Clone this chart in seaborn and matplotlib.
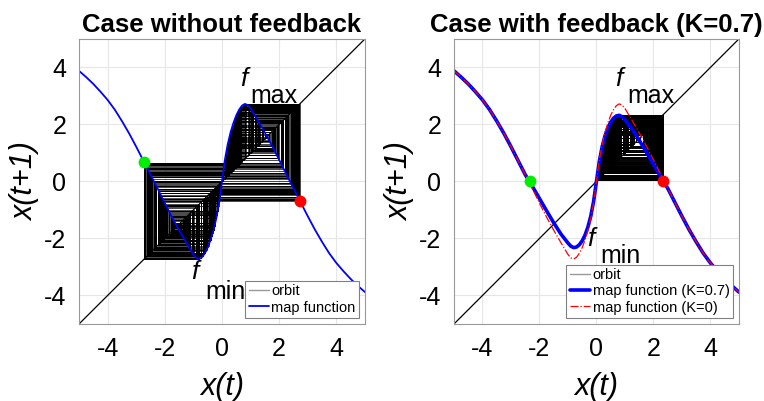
import numpy as np
import matplotlib
matplotlib.use("Agg")
import matplotlib.pyplot as plt
import seaborn as sns

# map function, x(t) -> x(t+1)
x_grid = [-5.0, -4.75, -4.5, -4.25, -4.0, -3.75, -3.5, -3.25, -3.0, -2.75, -2.5, -2.25, -2.0, -1.75, -1.5,
          -1.25, -1.0, -0.9, -0.8, -0.7, -0.6, -0.5, -0.4, -0.3, -0.2, -0.1, 0.0,
          0.1, 0.2, 0.3, 0.4, 0.5, 0.6, 0.7, 0.8, 0.9, 1.0, 1.25, 1.5, 1.75, 2.0, 2.25, 2.5, 2.75,
          3.0, 3.25, 3.5, 3.75, 4.0, 4.25, 4.5, 4.75, 5.0]
map_k0 = [3.88, 3.66, 3.42, 3.15, 2.86, 2.52, 2.12, 1.69, 1.22, 0.73, 0.24, -0.25, -0.76, -1.25, -1.71,
          -2.14, -2.56, -2.68, -2.72, -2.66, -2.52, -2.32, -2.05, -1.72, -1.30, -0.75, 0.0,
          0.75, 1.30, 1.72, 2.05, 2.32, 2.52, 2.66, 2.72, 2.68, 2.56, 2.14, 1.71, 1.25, 0.76, 0.25, -0.24, -0.73,
          -1.22, -1.69, -2.12, -2.52, -2.86, -3.15, -3.42, -3.66, -3.88]
map_k07 = [3.88, 3.66, 3.42, 3.15, 2.86, 2.52, 2.12, 1.69, 1.22, 0.73, 0.24, -0.17, -0.60, -1.03, -1.45,
           -1.84, -2.16, -2.27, -2.32, -2.30, -2.22, -2.08, -1.88, -1.60, -1.22, -0.70, 0.0,
           0.70, 1.22, 1.60, 1.88, 2.08, 2.22, 2.30, 2.32, 2.27, 2.16, 1.84, 1.45, 1.03, 0.60, 0.17, -0.24, -0.73,
           -1.22, -1.69, -2.12, -2.52, -2.86, -3.15, -3.42, -3.66, -3.88]

# orbit values x(t), in hundredths
orbit_left_x100 = [31, 175, 124, 215, 45, 220, 36, 192, 93, 265, -53, -238, 1, 9, 69, 265, -54, -239, 3, 22,
                   140, 188, 99, 257, -37, -196, -85, -270, 64, 257, -38, -197, -82, -271, 66, 260, -44, -215,
                   -46, -221, -33, -180, -115, -232, -12, -86, -270, 62, 255, -35, -187, -102, -253, 31, 175,
                   126, 213, 49, 230, 15, 101, 254, -31, -176, -123, -218, -40, -205, -66, -260, 43, 213, 49,
                   228, 19, 125, 214, 47, 223, 28, 164, 144, 181, 114, 233, 10, 76, 269, -62, -255, 33, 183,
                   109, 242, -7, -55, -242, 9, 65, 259, -42, -209, -57, -245, 15, 103, 252, -27, -159, -154,
                   -164, -145, -180, -116, -229, -17, -112, -236, -3, -23, -144, -182, -112, -237, -2, -17,
                   -116, -230, -16, -106, -246, 15, 105, 248, -20, -129, -207, -62, -254, 32, 180, 115, 231,
                   13, 90, 268, -59, -250, 24, 145, 179, 116, 229, 18, 118, 226, 23, 143, 183, 110, 240, -4,
                   -26, -157, -158, -156, -160, -152, -167, -140, -188, -99, -257, 38, 197, 82, 271, -65, -259,
                   42, 211, 53, 237, 1, 5, 37, 196, 83, 271, -65, -259, 41, 208, 61, 253, -29, -169, -135,
                   -196, -83,
                   -271, 65, 259, -41, -208, -60, -252, 29, 166, 141, 187, 102, 253, -30, -171, -132, -201, -73,
                   -268, 59, 250, -24, -147, -177, -121, -221, -34, -185, -106, -247, 18, 117, 228, 20, 129, 206,
                   63, 256, -36, -193, -90, -268, 59, 251, -26, -154, -163, -146, -178, -120, -222, -30, -173,
                   -129, -207, -62, -255, 34, 185, 106, 246, -17, -114, -233, -10, -74, -269, 60, 253, -29, -169,
                   -136, -195, -86, -270, 62, 255, -34, -186, -103, -251, 25, 153, 166, 142, 185, 106, 246, -15,
                   -105, -248, 21, 133, 200, 75, 269, -62, -254, 32, 179, 116, 228, 18, 120, 222, 30, 174, 128,
                   209, 57, 245, -15, -103, -250, 25, 149, 172, 130, 206, 64, 258, -40, -204, -67, -262, 48, 228,
                   19, 127, 211, 54, 241, -6, -47, -225, -26, -155, -162, -148, -174, -126, -212, -52, -235, -5,
                   -36, -192, -92, -266, 55, 243, -10, -74, -269, 61, 253, -30, -170, -134, -198, -79, -271, 66,
                   261, -45, -218, -40, -204, -68, -263, 50, 232, 11, 80, 272, -67, -262, 47, 224, 26, 156, 160,
                   152, 168, 139, 191, 94, 263, -49, -229, -18, -119, -224, -28, -163, -148, -175, -126, -212, -51]
orbit_right_x100 = [103, 212, 39, 185, 85, 229, 10, 68, 228, 12, 80, 232, 6, 39, 185, 86, 229, 10, 72, 230,
                    8, 56, 217, 31, 162, 125, 184, 87, 228, 11, 77, 231, 6, 45, 197, 65, 226, 16, 100, 215,
                    33, 170, 112, 201, 59, 221, 24, 139, 162, 124, 185, 86, 229, 10, 71, 230, 8, 59, 221, 24,
                    138, 163, 123, 187, 82, 231, 7, 51, 210, 44, 195, 68, 229, 11, 74, 231, 7, 52, 211, 41,
                    190, 78, 232, 6, 43, 195, 69, 229, 10, 71, 230, 9, 60, 222, 22, 130, 176, 102, 214, 37,
                    178, 97, 219, 28, 151, 144, 154, 138, 164, 122, 188, 81, 231, 6, 45, 198, 64, 225, 17, 108,
                    206, 50, 209, 45, 198, 63, 225, 18, 110, 203, 55, 215, 35, 173, 107, 207, 48, 203, 55, 214,
                    35, 175, 103, 212, 39, 184, 87, 228, 11, 77, 231, 6, 45, 199, 62, 224, 19, 118, 193, 73,
                    231, 8, 56, 216, 33, 168, 116, 196, 67, 227, 13, 87, 229, 11, 76, 231, 7, 49, 206, 50,
                    208, 46, 200, 61, 222, 21, 127, 181, 93, 224, 20, 120, 191, 75, 231, 7, 49, 206, 50, 208]

# marked points (green / red)
pts_left = [(-2.72, 0.67), (2.72, -0.67)]
pts_right = [(-2.32, 0.0), (2.32, 0.0)]

sns.set_theme(style="whitegrid")
plt.rcParams['font.family'] = ['Liberation Sans', 'DejaVu Sans']
plt.rcParams['axes.unicode_minus'] = False
plt.rcParams['text.color'] = 'black'
plt.rcParams['axes.labelcolor'] = 'black'

fig = plt.figure(figsize=(7.64, 4.01), dpi=100)
ax1 = fig.add_axes([0.1034, 0.192, 0.3743, 0.711])
ax2 = fig.add_axes([0.5942, 0.192, 0.3730, 0.711])


def cobweb(ax, orbit_x100, lw):
    # staircase: (x_t, x_t) -> (x_t, x_t+1) -> (x_t+1, x_t+1)
    o = np.repeat(np.asarray(orbit_x100) / 100, 2)
    ax.plot(o[:-1], o[1:], color="black", lw=lw, label="orbit")


for ax in (ax1, ax2):
    ax.plot([-5, 5], [-5, 5], color="black", lw=0.9)

cobweb(ax1, orbit_left_x100, 0.5)
sns.lineplot(x=x_grid, y=map_k0, ax=ax1, color="blue", lw=1.3, label="map function")
cobweb(ax2, orbit_right_x100, 0.7)
sns.lineplot(x=x_grid, y=map_k07, ax=ax2, color="blue", lw=2.6, label="map function (K=0.7)")
sns.lineplot(x=x_grid, y=map_k0, ax=ax2, color="red", lw=0.9, ls="-.", label="map function (K=0)")

for ax, pts in ((ax1, pts_left), (ax2, pts_right)):
    ax.plot(*pts[0], "o", color="#00ee00", ms=7.5)
    ax.plot(*pts[1], "o", color="red", ms=7.5)

for ax, title in ((ax1, "Case without feedback"), (ax2, "Case with feedback (K=0.7)")):
    ax.set_xlim(-5, 5)
    ax.set_ylim(-5, 5)
    ax.set_xticks([-4, -2, 0, 2, 4])
    ax.set_yticks([-4, -2, 0, 2, 4])
    ax.tick_params(labelsize=18, direction="in", length=3, color="0.6", labelcolor="black", pad=9)
    ax.grid(color="0.9", lw=0.8)
    for s in ax.spines.values():
        s.set_color("0.6")
        s.set_linewidth(0.8)
    ax.set_title(title, fontsize=18.5, fontweight="bold", pad=5, color="black")
    ax.set_xlabel("x(t)", fontsize=22, style="italic", labelpad=8)
    ax.set_ylabel("x(t+1)", fontsize=22, style="italic", labelpad=3)
    ax.text(0.77, 3.58, "f", fontsize=19, style="italic", ha="center", va="center")
    leg = ax.legend(loc="lower right", fontsize=10.5, handlelength=1.4, handletextpad=0.15,
                    labelspacing=0.15, borderpad=0.25, borderaxespad=0.4, fancybox=False,
                    edgecolor="0.5", framealpha=1)
    leg.get_frame().set_linewidth(0.8)
    leg.legend_handles[0].set_color("0.6")
    leg.legend_handles[0].set_linewidth(1)

ax1.text(1.0, 3.0, "max", fontsize=18, ha="left", va="center")
ax1.text(-0.94, -3.19, "f", fontsize=19, style="italic", ha="center", va="center")
ax1.text(-0.59, -3.86, "min", fontsize=18, ha="left", va="center")
ax2.text(1.08, 3.0, "max", fontsize=18, ha="left", va="center")
ax2.text(-0.2, -2.03, "f", fontsize=19, style="italic", ha="center", va="center")
ax2.text(0.14, -2.63, "min", fontsize=18, ha="left", va="center")

fig.savefig("out.png", dpi=100)
